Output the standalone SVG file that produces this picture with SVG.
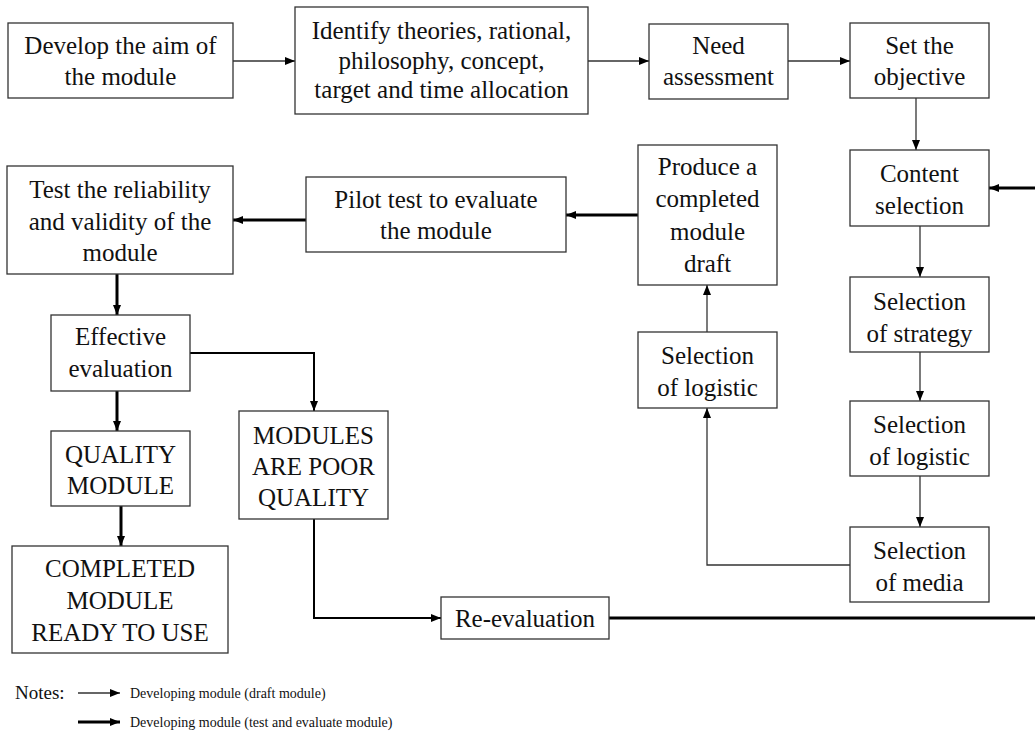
<svg xmlns="http://www.w3.org/2000/svg" width="1035" height="740" viewBox="0 0 1035 740">
<style>
  .box rect { fill: #ffffff; stroke: #333333; stroke-width: 1.3; }
  .lbl { font-family: "Liberation Serif", "Times New Roman", "DejaVu Serif", serif; font-size: 25px; fill: #111111; text-anchor: middle; }
  .thin { fill: none; stroke: #333333; stroke-width: 1.3; }
  .thick { fill: none; stroke: #000000; stroke-width: 3; }
  .mid { fill: none; stroke: #000000; stroke-width: 2; }
  .note { font-family: "Liberation Serif", "Times New Roman", "DejaVu Serif", serif; fill: #111111; }
</style>
<defs>
  <marker id="ah" markerUnits="userSpaceOnUse" markerWidth="10" markerHeight="10" refX="10" refY="5" orient="auto">
    <path d="M0,1 L10,5 L0,9 Z" fill="#000"/>
  </marker>
</defs>
<rect width="1035" height="740" fill="#ffffff"/>

<g id="connectors">
  <path class="thin" d="M233,61 H295" marker-end="url(#ah)"/>
  <path class="thin" d="M588,61 H649" marker-end="url(#ah)"/>
  <path class="thin" d="M788,61 H850" marker-end="url(#ah)"/>
  <path class="thin" d="M916,98 V150" marker-end="url(#ah)"/>
  <path class="thin" d="M920,226 V277" marker-end="url(#ah)"/>
  <path class="thin" d="M920,352 V401" marker-end="url(#ah)"/>
  <path class="thin" d="M920,476 V527" marker-end="url(#ah)"/>
  <path class="thin" d="M850,565 H707 V408" marker-end="url(#ah)"/>
  <path class="thin" d="M707,332 V285" marker-end="url(#ah)"/>
  <path class="thick" d="M638,215 H566" marker-end="url(#ah)"/>
  <path class="thick" d="M306,220 H233" marker-end="url(#ah)"/>
  <path class="thick" d="M117,274 V315" marker-end="url(#ah)"/>
  <path class="thick" d="M117,391 V431" marker-end="url(#ah)"/>
  <path class="thick" d="M121,506 V546" marker-end="url(#ah)"/>
  <path class="thick" d="M1035,188 H989" marker-end="url(#ah)"/>
  <path class="thick" d="M609,618 H1035"/>
  <path class="mid" d="M190,353 H314 V411" marker-end="url(#ah)"/>
  <path class="mid" d="M314,519 V618 H441" marker-end="url(#ah)"/>
</g>

<g id="nodes" font-family="'Liberation Serif', 'Times New Roman', serif">
<g id="n-develop" class="box"><rect x="8" y="23" width="225" height="75"/><text class="lbl" x="120.5" y="54">Develop the aim of<tspan x="120.5" dy="31">the module</tspan></text></g>
<g id="n-identify" class="box"><rect x="295" y="7" width="293" height="107"/><text class="lbl" x="441.5" y="39">Identify theories, rational,<tspan x="441.5" dy="29.5">philosophy, concept,</tspan><tspan x="441.5" dy="29.5">target and time allocation</tspan></text></g>
<g id="n-need" class="box"><rect x="649" y="24" width="139" height="75"/><text class="lbl" x="718.5" y="54">Need<tspan x="718.5" dy="31">assessment</tspan></text></g>
<g id="n-objective" class="box"><rect x="850" y="23" width="139" height="75"/><text class="lbl" x="919.5" y="54">Set the<tspan x="919.5" dy="31">objective</tspan></text></g>
<g id="n-content" class="box"><rect x="850" y="150" width="139" height="76"/><text class="lbl" x="919.5" y="182">Content<tspan x="919.5" dy="32">selection</tspan></text></g>
<g id="n-strategy" class="box"><rect x="850" y="277" width="139" height="75"/><text class="lbl" x="919.5" y="310">Selection<tspan x="919.5" dy="32">of strategy</tspan></text></g>
<g id="n-logistic-r" class="box"><rect x="850" y="401" width="139" height="75"/><text class="lbl" x="919.5" y="433">Selection<tspan x="919.5" dy="32">of logistic</tspan></text></g>
<g id="n-media" class="box"><rect x="850" y="527" width="139" height="75"/><text class="lbl" x="919.5" y="559">Selection<tspan x="919.5" dy="32">of media</tspan></text></g>
<g id="n-produce" class="box"><rect x="638" y="145" width="139" height="140"/><text class="lbl" x="707.5" y="175">Produce a<tspan x="707.5" dy="32.3">completed</tspan><tspan x="707.5" dy="32.3">module</tspan><tspan x="707.5" dy="32.3">draft</tspan></text></g>
<g id="n-logistic-m" class="box"><rect x="638" y="332" width="139" height="76"/><text class="lbl" x="707.5" y="364">Selection<tspan x="707.5" dy="32">of logistic</tspan></text></g>
<g id="n-pilot" class="box"><rect x="306" y="177" width="260" height="75"/><text class="lbl" x="436" y="208">Pilot test to evaluate<tspan x="436" dy="31">the module</tspan></text></g>
<g id="n-test" class="box"><rect x="7" y="166" width="226" height="108"/><text class="lbl" x="120" y="198">Test the reliability<tspan x="120" dy="31.5">and validity of the</tspan><tspan x="120" dy="31.5">module</tspan></text></g>
<g id="n-effective" class="box"><rect x="51" y="315" width="139" height="76"/><text class="lbl" x="120.5" y="345">Effective<tspan x="120.5" dy="32">evaluation</tspan></text></g>
<g id="n-quality" class="box"><rect x="51" y="431" width="139" height="75"/><text class="lbl" x="120.5" y="463">QUALITY<tspan x="120.5" dy="31">MODULE</tspan></text></g>
<g id="n-poor" class="box"><rect x="239" y="411" width="149" height="108"/><text class="lbl" x="313.5" y="444">MODULES<tspan x="313.5" dy="31">ARE POOR</tspan><tspan x="313.5" dy="31">QUALITY</tspan></text></g>
<g id="n-completed" class="box"><rect x="12" y="546" width="216" height="107"/><text class="lbl" x="120" y="577">COMPLETED<tspan x="120" dy="32">MODULE</tspan><tspan x="120" dy="32">READY TO USE</tspan></text></g>
<g id="n-reeval" class="box"><rect x="441" y="597" width="168" height="42"/><text class="lbl" x="525" y="627">Re-evaluation</text></g>
</g>

<g id="legend">
  <text class="note" x="15" y="699" font-size="19">Notes:</text>
  <path class="thin" d="M78,693 H120" marker-end="url(#ah)"/>
  <text class="note" x="130" y="698" font-size="14">Developing module (draft module)</text>
  <path class="thick" d="M78,722 H120" marker-end="url(#ah)"/>
  <text class="note" x="130" y="727" font-size="14">Developing module (test and evaluate module)</text>
</g>
</svg>
